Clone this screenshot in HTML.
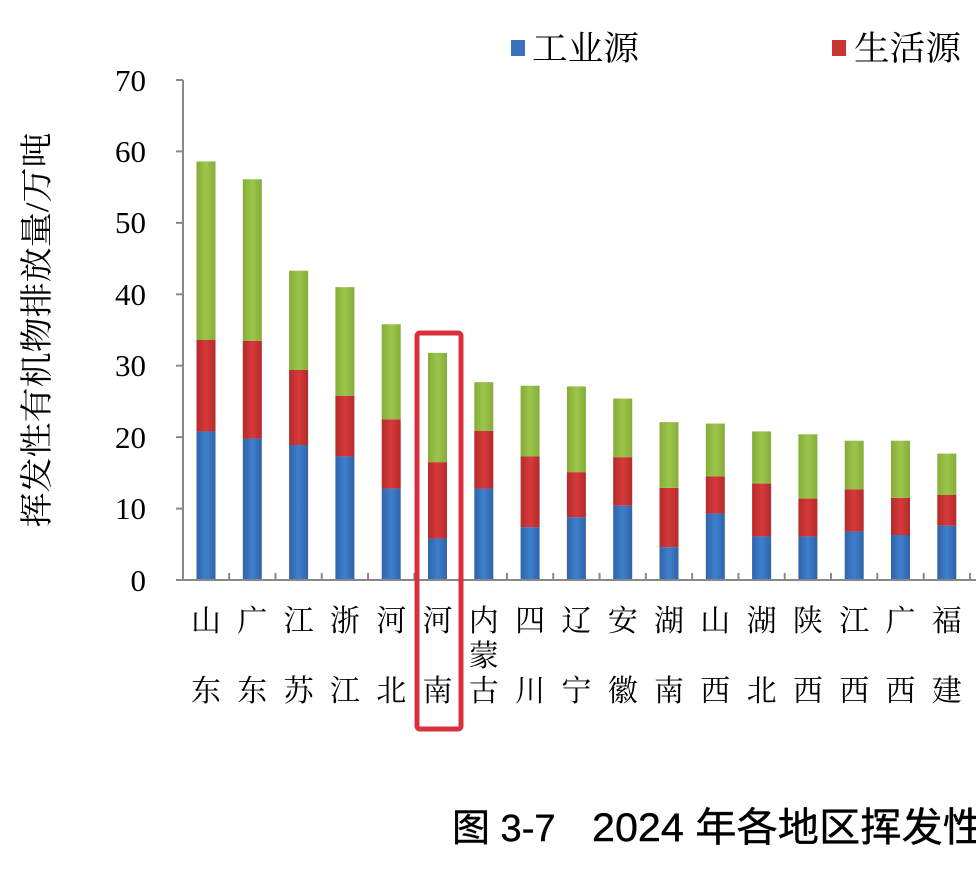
<!DOCTYPE html>
<html><head><meta charset="utf-8"><style>
html,body{margin:0;padding:0;background:#fff;width:976px;height:869px;overflow:hidden}
</style></head><body>
<svg width="976" height="869" viewBox="0 0 976 869" xmlns="http://www.w3.org/2000/svg">
<defs>
<linearGradient id="gb" x1="0" y1="0" x2="1" y2="0"><stop offset="0" stop-color="#2f63a8"/><stop offset="0.5" stop-color="#3e7fcc"/><stop offset="1" stop-color="#2f63a8"/></linearGradient>
<linearGradient id="gr" x1="0" y1="0" x2="1" y2="0"><stop offset="0" stop-color="#b52a2a"/><stop offset="0.5" stop-color="#d63a3a"/><stop offset="1" stop-color="#b52a2a"/></linearGradient>
<linearGradient id="gg" x1="0" y1="0" x2="1" y2="0"><stop offset="0" stop-color="#86ac3a"/><stop offset="0.5" stop-color="#9cc64a"/><stop offset="1" stop-color="#86ac3a"/></linearGradient>
</defs>
<g id="bars"></g>
<g stroke="#888" stroke-width="2">
<line x1="183" y1="80" x2="183" y2="580"/>
<line x1="183" y1="580" x2="976" y2="580"/>
<line x1="176" y1="80" x2="183" y2="80"/><line x1="176" y1="151.4" x2="183" y2="151.4"/><line x1="176" y1="222.9" x2="183" y2="222.9"/><line x1="176" y1="294.3" x2="183" y2="294.3"/><line x1="176" y1="365.7" x2="183" y2="365.7"/><line x1="176" y1="437.1" x2="183" y2="437.1"/><line x1="176" y1="508.6" x2="183" y2="508.6"/><line x1="176" y1="580" x2="183" y2="580"/>
</g>
<g id="xt" stroke="#888" stroke-width="2"></g>
<g font-family="Liberation Serif, serif" font-size="31" text-anchor="end" fill="#000">
<text x="146" y="91">70</text><text x="146" y="162">60</text><text x="146" y="233">50</text><text x="146" y="305">40</text><text x="146" y="376">30</text><text x="146" y="448">20</text><text x="146" y="519">10</text><text x="146" y="591">0</text>
</g>
<text transform="translate(48,330) rotate(-90)" text-anchor="middle" font-family="Liberation Serif, 'Noto Serif CJK SC', serif" font-size="33" textLength="395" lengthAdjust="spacingAndGlyphs">挥发性有机物排放量/万吨</text>
<rect x="511" y="40" width="14" height="16" fill="#3a72bf"/>
<text x="532" y="60" font-family="'Noto Serif CJK SC', serif" font-size="34" textLength="107" lengthAdjust="spacingAndGlyphs">工业源</text>
<rect x="832" y="40" width="14" height="16" fill="#c83434"/>
<text x="854" y="60" font-family="'Noto Serif CJK SC', serif" font-size="34" textLength="107" lengthAdjust="spacingAndGlyphs">生活源</text>
<g id="lab" font-family="'Noto Serif CJK SC', serif" font-size="30" text-anchor="middle"></g>
<rect x="417" y="333" width="44" height="396" rx="3" fill="none" stroke="#d8303c" stroke-width="5"/>
<g font-family="'Liberation Sans','Noto Sans CJK SC',sans-serif" font-size="38" stroke="#000" stroke-width="0.4">
<text x="452" y="841">图 3-7</text>
<text x="592" y="841" font-size="40" textLength="392" lengthAdjust="spacingAndGlyphs">2024 年各地区挥发性</text>
</g>
</svg>
<script>
var d=[[20.8,33.6,58.6,"山","东"],[19.8,33.5,56.1,"广","东"],[18.9,29.4,43.3,"江","苏"],[17.3,25.8,41.0,"浙","江"],[12.8,22.5,35.8,"河","北"],[5.8,16.5,31.8,"河","南"],[12.8,20.9,27.7,"内","古"],[7.4,17.3,27.2,"四","川"],[8.8,15.1,27.1,"辽","宁"],[10.4,17.2,25.4,"安","徽"],[4.6,12.9,22.1,"湖","南"],[9.3,14.5,21.9,"山","西"],[6.1,13.5,20.8,"湖","北"],[6.1,11.4,20.4,"陕","西"],[6.8,12.7,19.5,"江","西"],[6.3,11.5,19.5,"广","西"],[7.6,11.9,17.7,"福","建"]];
var ns="http://www.w3.org/2000/svg",b=document.getElementById("bars"),l=document.getElementById("lab"),xt=document.getElementById("xt");
function Y(v){return 580-v*500/70}
function r(x,y1,y2,f){var e=document.createElementNS(ns,"rect");e.setAttribute("x",x);e.setAttribute("y",Y(y2));e.setAttribute("width",19);e.setAttribute("height",Y(y1)-Y(y2));e.setAttribute("fill",f);b.appendChild(e)}
function t(x,y,s){var e=document.createElementNS(ns,"text");e.setAttribute("x",x);e.setAttribute("y",y);e.textContent=s;l.appendChild(e)}
d.forEach(function(a,i){var c=206+i*46.3,x=c-9.5;r(x,0,a[0],"url(#gb)");r(x,a[0],a[1],"url(#gr)");r(x,a[1],a[2],"url(#gg)");t(c,631,a[3]);t(c,701,a[4]);if(i==6)t(c,666,"蒙");
var k=document.createElementNS(ns,"line");var tx=c+23.15;k.setAttribute("x1",tx);k.setAttribute("x2",tx);k.setAttribute("y1",573);k.setAttribute("y2",580);xt.appendChild(k)});
</script>
</body></html>
